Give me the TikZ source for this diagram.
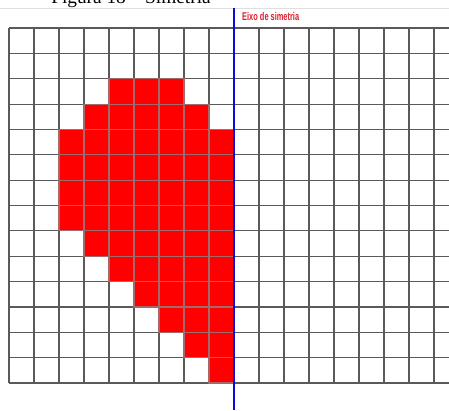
\documentclass[tikz,border=0pt]{standalone}
\usepackage{fontspec}
\setmainfont{Liberation Serif}
\newfontfamily\eixofont{Liberation Sans}
\usetikzlibrary{positioning}
\definecolor{eixored}{RGB}{222,30,45}
\definecolor{eixoblue}{RGB}{10,10,225}
\definecolor{gridgray}{RGB}{90,90,90}
\definecolor{cellline}{RGB}{165,105,105}

\begin{document}
\begin{tikzpicture}[x=5mm,y=-5.072mm,gridline/.style={draw=gridgray,line width=0.65pt},cell/.style={fill=red,draw=cellline,line width=0.65pt},axis/.style={draw=eixoblue,line width=1.5pt}]
\useasboundingbox (-0.36,-1.104) rectangle (17.6,15.063);
\clip (-0.36,-1.104) rectangle (17.6,15.063);
\node[anchor=base,font=\fontsize{11}{13}\selectfont,inner sep=0pt] (title) at (4.88,-0.95) {Figura 18 -- Simetria};
\draw[gray!25,line width=0.4pt] (-0.36,-0.77) -- (17.6,-0.77);
% grid
\foreach \r in {0,...,14} \draw[gridline] (0,\r) -- (17.6,\r);
\foreach \c in {0,...,17} \draw[gridline] (\c,0) -- (\c,14);
% red half of the figure
\foreach \r/\a/\b in {2/4/6,3/3/7,4/2/8,5/2/8,6/2/8,7/2/8,8/3/8,9/4/8,10/5/8,11/6/8,12/7/8,13/8/8}
  \foreach \c in {\a,...,\b} \draw[cell] (\c,\r) rectangle ++(1,1);
% axis
\coordinate (axtop) at (9,-0.79);
\coordinate (axbot) at (9,15.063);
\draw[axis] (axtop) -- (axbot);
\node[anchor=base west,inner sep=0pt,xscale=0.66,text=eixored,font=\eixofont\bfseries\fontsize{6.4}{7}\selectfont] (eixo) at (9.32,-0.315) {Eixo de simetria};
\end{tikzpicture}
\end{document}
